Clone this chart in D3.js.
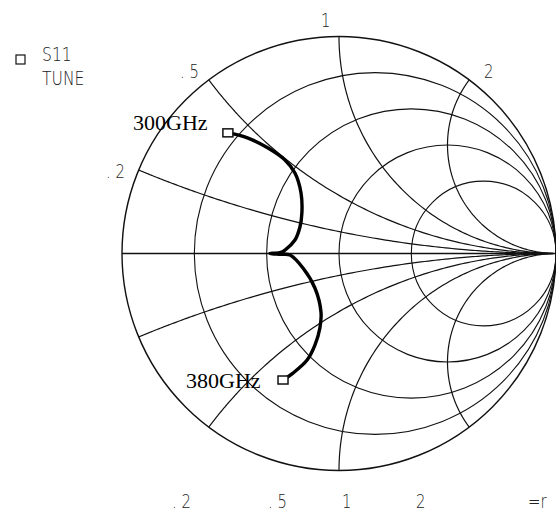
<!DOCTYPE html>
<html>
<head>
<meta charset="utf-8">
<script src="https://cdn.jsdelivr.net/npm/d3@7"></script>
<style>
  html, body { margin: 0; padding: 0; background: #fff; }
  svg { display: block; }
</style>
</head>
<body>
<div id="canvas"><svg></svg></div>
<script>
// Smith chart, S11 tune trace 300-380 GHz

// grid values
const resistances = [0.2, 0.5, 1, 2];
const reactances = [0.2, 0.5, 1, 2];
const rimLabels = [". 5", "1", "2", ". 2"];      // reactance labels along the rim
const bottomLabels = [". 2", ". 5", "1", "2", "=r"];

// trace, as reflection coefficient (re, im)
const gammaRe = [-0.502, -0.419, -0.327, -0.249, -0.203, -0.175, -0.171, -0.180, -0.203, -0.249, -0.272,
                 -0.318, -0.272,
                 -0.226, -0.166, -0.111, -0.083, -0.088, -0.111, -0.147, -0.212, -0.258];
const gammaIm = [0.555, 0.532, 0.486, 0.431, 0.371, 0.279, 0.187, 0.122, 0.062, 0.016, 0.004,
                 0.0, -0.004,
                 -0.007, -0.067, -0.159, -0.270, -0.343, -0.422, -0.491, -0.551, -0.583];
const markers = [
  { name: "300GHz", re: -0.512, im: 0.556 },
  { name: "380GHz", re: -0.258, im: -0.583 }
];

const width = 556, height = 512;
const cx = 339, cy = 253.5, R = 217;

const svg = d3.select('#canvas svg')
  .attr('width', width).attr('height', height);

const x = d3.scaleLinear().domain([-1, 1]).range([cx - R, cx + R]);
const y = d3.scaleLinear().domain([-1, 1]).range([cy + R, cy - R]);

const plotFont = '"DejaVu Sans", sans-serif';
const ink = '#111';

// z -> gamma
function toGamma(r, xx) {
  const dr = (r + 1) * (r + 1) + xx * xx;
  return [(r * r + xx * xx - 1) / dr, (2 * xx) / dr];
}

const grid = svg.append('g').attr('fill', 'none').attr('stroke', ink);

// outer circle
grid.append('circle')
  .attr('cx', x(0)).attr('cy', y(0))
  .attr('r', x(1) - x(0))
  .attr('stroke-width', 1.4);

// constant resistance circles
grid.selectAll('.rc').data(resistances).join('circle')
  .attr('class', 'rc')
  .attr('cx', d => x(d / (1 + d)))
  .attr('cy', y(0))
  .attr('r', d => x(1 / (1 + d)) - x(0))
  .attr('stroke-width', 1.1);

// constant reactance arcs (inside unit circle)
const rSamples = d3.range(0, 400).map(i => Math.pow(10, -3 + i * 0.0175)).concat([0]).sort((a, b) => a - b);
const line = d3.line().x(d => x(d[0])).y(d => y(d[1]));
const arcs = [];
reactances.forEach(v => { arcs.push(v); arcs.push(-v); });
grid.selectAll('.xc').data(arcs).join('path')
  .attr('class', 'xc')
  .attr('d', v => line(rSamples.map(r => toGamma(r, v))))
  .attr('stroke-width', 1.2);

// real axis
grid.append('line')
  .attr('x1', x(-1)).attr('x2', x(1))
  .attr('y1', y(0)).attr('y2', y(0))
  .attr('stroke-width', 1.4);

// plotter-style labels (narrow, thin)
const lab = svg.append('g')
  .attr('font-family', plotFont)
  .attr('font-weight', 200)
  .attr('font-size', 19)
  .attr('fill', '#222');

function plotText(g, px, py, s, size) {
  g.append('text')
    .attr('transform', `translate(${px},${py}) scale(0.78,1)`)
    .attr('font-size', size || 19)
    .text(s);
}

const rimPos = [[180, 78], [321, 27], [484, 78], [106, 178]];
rimLabels.forEach((s, i) => plotText(lab, rimPos[i][0], rimPos[i][1], s));

const bottomX = [172, 268, 342, 416, 528];
bottomLabels.forEach((s, i) => plotText(lab, bottomX[i], 508, s));

// legend
svg.append('rect')
  .attr('x', 16).attr('y', 55).attr('width', 9).attr('height', 9)
  .attr('fill', 'none').attr('stroke', ink).attr('stroke-width', 1.2);
plotText(lab, 42, 61, "S11", 20);
plotText(lab, 42, 85, "TUNE", 20);

// trace
const pts = gammaRe.map((d, i) => [d, gammaIm[i]]);
svg.append('path')
  .attr('d', d3.line().x(d => x(d[0])).y(d => y(d[1])).curve(d3.curveCatmullRom.alpha(0.5))(pts))
  .attr('fill', 'none')
  .attr('stroke', '#000')
  .attr('stroke-width', 3.4)
  .attr('stroke-linejoin', 'round');

// markers
svg.selectAll('.mk').data(markers).join('rect')
  .attr('class', 'mk')
  .attr('x', d => x(d.re) - 5).attr('y', d => y(d.im) - 4)
  .attr('width', 10).attr('height', 8)
  .attr('fill', '#fff').attr('stroke', ink).attr('stroke-width', 1.5);

const serif = '"Liberation Serif", "Times New Roman", serif';
svg.append('text')
  .attr('x', 133).attr('y', 130)
  .attr('font-family', serif).attr('font-size', 22)
  .attr('fill', '#000')
  .text(markers[0].name);
svg.append('text')
  .attr('x', 186).attr('y', 388)
  .attr('font-family', serif).attr('font-size', 22)
  .attr('fill', '#000')
  .text(markers[1].name);
</script>
</body>
</html>
